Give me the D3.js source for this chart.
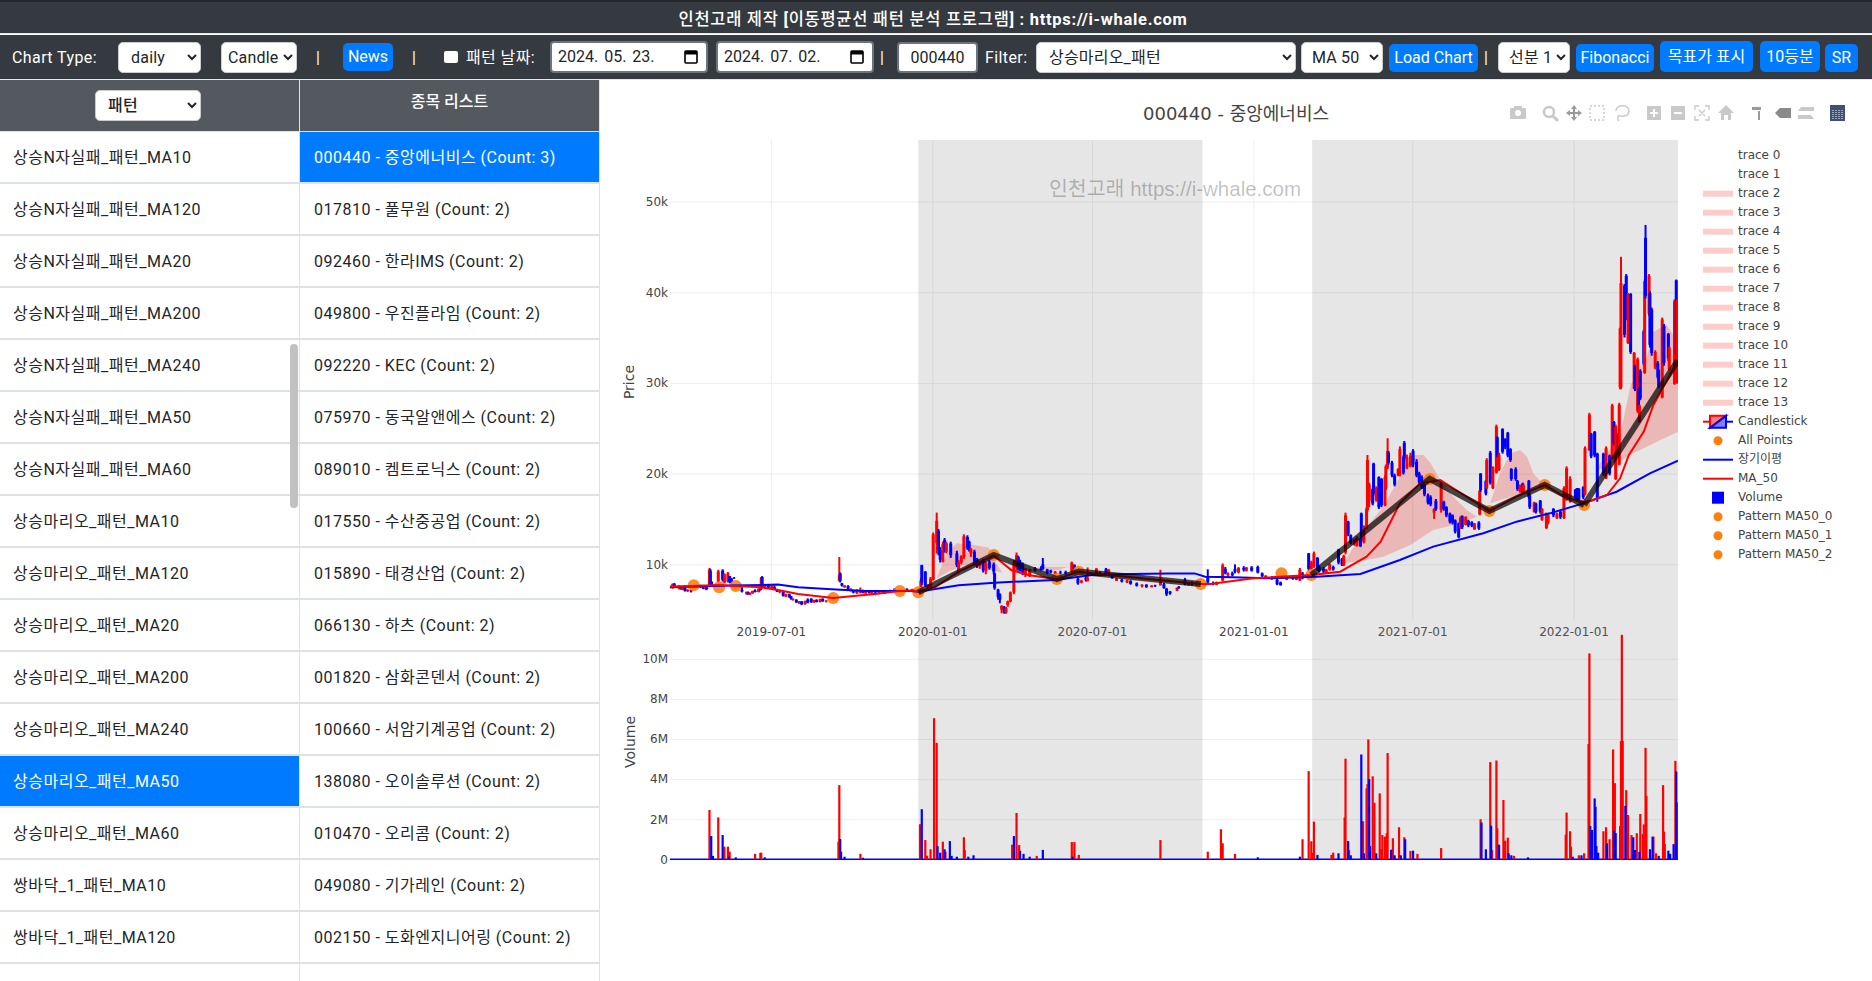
<!DOCTYPE html>
<html lang="ko">
<head>
<meta charset="utf-8">
<title>이동평균선 패턴 분석 프로그램</title>
<script src="https://cdn.jsdelivr.net/npm/d3@7"></script>
<style>
  html, body { margin: 0; padding: 0; width: 1872px; height: 981px; overflow: hidden; background: #fff; }
  body { position: relative; font-family: Roboto, "Noto Sans CJK KR", sans-serif; font-size: 16px; color: #212529; }
  #header { position: absolute; left: 0; top: 0; width: 1872px; height: 34px; background: #343a40; border-top: 2px solid #23272b; box-sizing: border-box; border-bottom: 1px solid #e8e8e8; color: #fff; text-align: center; line-height: 35px; font-size: 16.5px; letter-spacing: .7px; font-weight: 500; padding-right: 6px; }
  #header b { font-weight: 700; }
  #toolbar { position: absolute; left: 0; top: 35px; width: 1872px; height: 44px; background: #343a40; border-bottom: 1px solid #e8e8e8; box-sizing: content-box; }
  .ctl { position: absolute; box-sizing: border-box; }
  .label { color: #fff; white-space: nowrap; line-height: 30px; letter-spacing: .4px; }
  select.ctl { background: #fff; border: 1px solid #ccc; border-radius: 5px; font: inherit; color: #212529; padding: 0 0 0 4px; letter-spacing: .2px; }
  .btn { background: #007bff; color: #fff; border-radius: 5px; text-align: center; line-height: 27px; white-space: nowrap; }
  .datebox { background: #fff; border: 2px solid #6c757d; border-radius: 4px; color: #212529; line-height: 28px; padding-left: 6px; word-spacing: 2px; white-space: nowrap; }
  .datebox svg { position: absolute; right: 7px; top: 6px; }
  #patterns, #stocks { position: absolute; top: 80px; overflow: hidden; }
  #patterns { left: 0; width: 299px; }
  #stocks { left: 299px; width: 300px; border-right: 1px solid #dee2e6; }
  .col_head { height: 51px; background: #54595f; border-bottom: 1px solid #dee2e6; color: #fff; text-align: center; line-height: 43px; font-weight: 500; }
  #stocks .col_head { border-left: 1px solid #dee2e6; }
  .row { height: 50px; line-height: 52px; border-bottom: 2px solid #dee2e6; white-space: nowrap; letter-spacing: .5px; }
  #patterns .row { padding-left: 13px; }
  #stocks .row { padding-left: 14px; border-left: 1px solid #dee2e6; }
  .row.active { background: #007bff; color: #fff; }
  #scroll_thumb { position: absolute; left: 290px; top: 344px; width: 8px; height: 164px; background: #c1c1c1; border-radius: 4px; }
  #chart { position: absolute; left: 0; top: 0; pointer-events: none; }
  #chart text { font-family: "DejaVu Sans", "Noto Sans CJK KR", sans-serif; fill: #444; }
  .axis path.domain { display: none; }
  .axis line { stroke: #eee; }
</style>
</head>
<body>
<div id="header">인천고래 제작 <b>[</b>이동평균선 패턴 분석 프로그램<b>] : https://i-whale.com</b></div>
<div id="toolbar"></div>
<div id="patterns"></div>
<div id="stocks"></div>
<div id="scroll_thumb"></div>
<svg id="chart" width="1872" height="981"></svg>
<script>
// side lists
const pattern_names = ["상승N자실패_패턴_MA10", "상승N자실패_패턴_MA120", "상승N자실패_패턴_MA20", "상승N자실패_패턴_MA200",
  "상승N자실패_패턴_MA240", "상승N자실패_패턴_MA50", "상승N자실패_패턴_MA60", "상승마리오_패턴_MA10", "상승마리오_패턴_MA120",
  "상승마리오_패턴_MA20", "상승마리오_패턴_MA200", "상승마리오_패턴_MA240", "상승마리오_패턴_MA50", "상승마리오_패턴_MA60",
  "쌍바닥_1_패턴_MA10", "쌍바닥_1_패턴_MA120", ""];
const stock_names = ["000440 - 중앙에너비스 (Count: 3)", "017810 - 풀무원 (Count: 2)", "092460 - 한라IMS (Count: 2)",
  "049800 - 우진플라임 (Count: 2)", "092220 - KEC (Count: 2)", "075970 - 동국알앤에스 (Count: 2)", "089010 - 켐트로닉스 (Count: 2)",
  "017550 - 수산중공업 (Count: 2)", "015890 - 태경산업 (Count: 2)", "066130 - 하츠 (Count: 2)", "001820 - 삼화콘덴서 (Count: 2)",
  "100660 - 서암기계공업 (Count: 2)", "138080 - 오이솔루션 (Count: 2)", "010470 - 오리콤 (Count: 2)", "049080 - 기가레인 (Count: 2)",
  "002150 - 도화엔지니어링 (Count: 2)", ""];

// chart axes
const date_ticks = ["2019-07-01", "2020-01-01", "2020-07-01", "2021-01-01", "2021-07-01", "2022-01-01"];
const price_ticks = [10000, 20000, 30000, 40000, 50000];
const volume_ticks = [0, 2, 4, 6, 8, 10];
const legend_labels = ["trace 0", "trace 1", "trace 2", "trace 3", "trace 4", "trace 5", "trace 6", "trace 7", "trace 8", "trace 9",
  "trace 10", "trace 11", "trace 12", "trace 13", "Candlestick", "All Points", "장기이평", "MA_50", "Volume",
  "Pattern MA50_0", "Pattern MA50_1", "Pattern MA50_2"];

// date, open, high, low, close
const candles_2019 = [
  ["2019-03-11",7400,7900,7300,7800],["2019-03-13",7800,7950,7400,7500],["2019-03-18",7400,7700,7250,7550],["2019-03-20",7500,7600,7200,7300],
  ["2019-03-22",7200,7500,7150,7400],["2019-03-25",7400,7700,7000,7100],["2019-03-28",7050,7250,6950,7200],["2019-04-01",7150,7250,6900,7000],
  ["2019-04-12",7650,7750,7400,7500],["2019-04-15",7450,7600,7250,7300],["2019-04-18",7250,7500,7150,7400],["2019-04-19",7400,7550,7200,7300],
  ["2019-04-22",7600,9600,7500,9400],["2019-04-23",9300,9500,7600,7800],["2019-04-25",7800,8100,7500,7600],["2019-05-02",8100,9400,8000,9200],
  ["2019-05-07",9300,9450,8100,8300],["2019-05-09",8000,9000,7900,8900],["2019-05-13",8100,9150,8000,9000],["2019-05-15",8700,8700,7900,8100],
  ["2019-05-17",8400,8500,7900,8000],["2019-05-20",8500,8600,8400,8450],["2019-05-29",7200,7500,6900,7000],["2019-06-03",6800,7000,6650,6900],
  ["2019-06-05",6950,7000,6650,6700],["2019-06-07",6650,6900,6600,6850],["2019-06-10",6800,7100,6750,7050],["2019-06-13",7100,7250,6900,6950],
  ["2019-06-17",6950,7350,6900,7300],["2019-06-19",7300,7500,7100,7150],["2019-06-20",7300,8600,7250,8500],["2019-06-21",8600,8700,7400,7500],
  ["2019-06-24",7400,7700,7300,7650],["2019-06-28",7650,7750,7300,7400],["2019-07-02",7300,7650,7250,7600],["2019-07-05",7500,7650,7150,7250],
  ["2019-07-08",7200,7300,6950,7000],["2019-07-11",6950,7150,6800,7100],["2019-07-15",6950,7000,6450,6550],["2019-07-18",6450,6750,6400,6700],
  ["2019-07-22",6700,6750,6300,6400],["2019-07-24",6450,6500,6100,6200],["2019-07-26",6050,6250,6000,6200],["2019-07-30",6100,6150,5750,5800],
  ["2019-08-02",5700,5950,5650,5900],["2019-08-05",5900,5950,5500,5600],["2019-08-09",5600,6000,5550,5950],["2019-08-12",6100,6250,5700,5800],
  ["2019-08-16",6200,6250,5750,5850],["2019-08-19",5800,6100,5750,6050],["2019-08-22",6050,6150,5800,5850],["2019-08-26",5850,6200,5800,6150],
  ["2019-08-29",6200,6250,5850,5950],["2019-09-02",5900,6050,5800,6000],["2019-09-17",8200,10800,8100,8800],["2019-09-18",9000,9100,8000,8200],
  ["2019-09-20",7900,7950,7550,7650],["2019-09-23",7500,7700,7400,7650],["2019-09-27",7600,7700,7200,7300],["2019-09-30",7150,7350,7000,7300],
  ["2019-10-03",7150,7200,6800,6900],["2019-10-07",6800,7250,6750,7200],["2019-10-11",6850,7450,6800,7100],["2019-10-14",7050,7200,6800,6900],
  ["2019-10-17",6800,7050,6750,7000],["2019-10-21",7000,7050,6800,6850],["2019-10-24",6800,7000,6700,6950],["2019-10-28",6900,6950,6600,6750],
  ["2019-11-01",6750,6950,6700,6900],["2019-11-08",7000,7050,6750,6850],["2019-11-14",7000,7200,6950,7150],["2019-11-19",7300,7350,7100,7200],
  ["2019-12-03",7300,7350,7150,7200],["2019-12-09",7150,7300,7000,7250],["2019-12-19",7300,8500,7100,8200],["2019-12-20",9900,9950,7700,8000],
  ["2019-12-24",9200,9250,7500,7700],["2019-12-27",7300,7800,7100,7700],["2019-12-30",7700,8600,7500,8400]
];
const candles_2020 = [
  ["2020-01-02",8300,13500,8200,13300],["2020-01-06",12300,15700,11200,14800],["2020-01-08",13700,13900,11000,11600],["2020-01-10",11600,11900,10200,10500],
  ["2020-01-13",10300,12500,10200,12200],["2020-01-15",12700,12900,11300,11500],["2020-01-17",11400,12500,11200,12300],["2020-01-22",12300,12500,10700,11000],
  ["2020-01-29",11200,11500,9700,9900],["2020-01-31",9300,10500,9000,10200],["2020-02-03",10200,11000,10000,10900],["2020-02-06",10800,13300,10600,13100],
  ["2020-02-10",13000,13200,11600,11800],["2020-02-12",12500,12600,11400,11600],["2020-02-14",11200,11800,10800,11700],["2020-02-18",11400,11600,10000,10300],
  ["2020-02-21",10600,10700,9600,9800],["2020-02-24",9800,10300,9500,10200],["2020-02-28",10400,10600,9100,9300],["2020-03-02",9300,10300,8900,10100],
  ["2020-03-06",10300,10500,9400,9600],["2020-03-11",10000,10200,8900,9200],["2020-03-12",9000,9100,7200,7400],["2020-03-16",7200,7300,6100,6400],
  ["2020-03-18",6700,6800,5700,6100],["2020-03-20",5000,5500,4600,5400],["2020-03-23",5300,5400,4550,4700],["2020-03-25",4700,5300,4550,5200],
  ["2020-03-27",5500,6000,5300,5900],["2020-03-30",5900,7000,5800,6900],["2020-04-03",6900,10500,6700,10100],["2020-04-06",9600,11300,9300,11000],
  ["2020-04-08",10800,10950,9300,9500],["2020-04-10",10300,10500,9200,9400],["2020-04-13",10000,10200,8800,9000],["2020-04-16",8900,9600,8600,9500],
  ["2020-04-21",8700,9500,8600,9400],["2020-04-27",9500,9700,9200,9300],["2020-05-04",9600,9800,9300,9400],["2020-05-06",10000,10700,9400,9500],
  ["2020-05-11",9400,9500,8900,9050],["2020-05-15",9300,9400,9000,9100],["2020-05-20",8900,9250,8800,9200],["2020-05-26",9100,9300,8900,9000],
  ["2020-06-01",9150,9300,8850,9000],["2020-06-08",9200,10300,9100,10200],["2020-06-11",9900,10000,9200,9300],["2020-06-15",8400,8500,7750,7900],
  ["2020-06-19",8000,8300,7900,8200],["2020-06-24",8500,8700,8100,8300],["2020-06-26",8200,9650,8100,8500],["2020-07-06",8800,9600,8750,9500],
  ["2020-07-10",9000,9200,8700,8900],["2020-07-17",9500,9600,8800,8900],["2020-07-20",8800,9500,8700,9400],["2020-07-24",8800,8900,8400,8500],
  ["2020-07-29",8200,8500,8150,8400],["2020-08-04",8300,8400,8000,8100],["2020-08-10",8000,8300,7950,8250],["2020-08-14",8150,8250,7750,7850],
  ["2020-08-21",7900,8000,7550,7650],["2020-08-27",7600,7800,7450,7750],["2020-09-01",7750,7800,7400,7500],["2020-09-07",7500,7700,7450,7650],
  ["2020-09-11",7650,7750,7500,7600],["2020-09-17",7700,9400,7650,8000],["2020-09-21",7800,7950,7300,7400],["2020-09-24",7300,7400,6500,6700],
  ["2020-09-28",7000,7050,6650,6800],["2020-10-06",7100,7450,7050,7400],["2020-10-08",7500,7600,7300,7400],["2020-10-15",8300,8500,7700,7800],
  ["2020-10-19",7700,8000,7650,7950],["2020-10-23",8000,8100,7650,7700],["2020-10-28",7650,7950,7600,7900],["2020-11-10",8700,9450,7900,8000],
  ["2020-11-16",7900,8100,7700,7800],["2020-11-20",7750,8100,7700,8050],["2020-11-27",8200,10100,8100,9900],["2020-11-30",9500,9700,8900,9000],
  ["2020-12-03",8800,9100,8600,9000],["2020-12-08",9000,9200,8700,8800],["2020-12-11",9500,10000,9000,9200],["2020-12-15",9100,9700,9000,9600],
  ["2020-12-21",9600,9800,9200,9400],["2020-12-24",9300,9700,9200,9650],["2020-12-30",9650,9800,9200,9300]
];
const candles_2021 = [
  ["2021-01-06",9700,9850,9000,9100],["2021-01-11",9000,9100,8600,8700],["2021-01-15",8500,8800,8400,8750],["2021-01-22",8600,8700,8300,8400],
  ["2021-01-28",8300,8400,7700,7800],["2021-02-01",8000,8100,7650,7700],["2021-02-08",8300,8650,8250,8600],["2021-02-15",8600,8700,8300,8400],
  ["2021-02-19",8300,8800,8250,8750],["2021-02-23",8200,9600,8150,9400],["2021-02-26",9000,9150,8350,8500],["2021-03-05",11200,11250,9300,9500],
  ["2021-03-08",9500,10400,9300,10200],["2021-03-11",9800,11400,9600,11200],["2021-03-15",10700,10800,9300,9450],["2021-03-17",9700,9900,9100,9300],
  ["2021-03-22",9500,9700,9000,9200],["2021-03-25",9100,9500,9000,9400],["2021-03-29",9400,10100,9300,10000],["2021-04-02",9700,9850,9300,9450],
  ["2021-04-08",11600,11700,10000,10200],["2021-04-12",10600,10700,9800,9950],["2021-04-14",9900,11050,9800,10900],["2021-04-16",11300,15700,11100,15400],
  ["2021-04-19",14700,14800,13100,13300],["2021-04-22",13200,13300,12200,12400],["2021-04-26",12150,12800,12050,12700],["2021-04-29",12050,13100,11950,12950],
  ["2021-05-03",12800,12900,11900,12000],["2021-05-04",15600,15700,12400,12600],["2021-05-07",12500,14300,12300,14100],["2021-05-10",14000,16300,13900,16100],
  ["2021-05-11",16000,22050,15800,21500],["2021-05-13",17000,19000,16300,18800],["2021-05-17",18300,18400,16500,16700],["2021-05-18",21100,21200,17600,17800],
  ["2021-05-21",17100,18600,16900,18400],["2021-05-24",19600,19700,16100,16300],["2021-05-27",19400,19500,16300,16500],["2021-05-31",16500,19800,16400,19600],
  ["2021-06-01",18400,21000,18200,20800],["2021-06-03",20700,23900,20500,22500],["2021-06-04",22300,22500,21000,21200],["2021-06-08",21200,21400,19600,19800],
  ["2021-06-11",19800,20000,18600,18800],["2021-06-15",19850,20600,19700,20500],["2021-06-17",19900,23000,19700,22700],["2021-06-21",21800,22000,19900,20100],
  ["2021-06-22",23400,23600,21400,21600],["2021-06-25",20600,22100,20500,21800],["2021-06-29",20800,22300,20700,22000],["2021-07-02",22500,22700,20700,21000],
  ["2021-07-06",21300,21600,19600,19800],["2021-07-09",20000,20200,18800,19000],["2021-07-12",19600,19800,18300,18500],["2021-07-15",18700,18900,17500,17700],
  ["2021-07-19",17600,17800,16600,16800],["2021-07-22",17400,17600,16400,16600],["2021-07-26",15700,16200,15000,16100],["2021-07-28",17000,17200,15900,16100],
  ["2021-08-03",16000,19300,15700,18900],["2021-08-06",16900,17000,15900,16100],["2021-08-09",16300,16400,15200,15400],["2021-08-13",15600,15700,14500,14700],
  ["2021-08-16",15400,15500,14400,14600],["2021-08-19",14850,14950,13400,13600],["2021-08-23",14500,14600,12860,13000],["2021-08-25",14000,15300,13900,15100],
  ["2021-08-27",15300,15400,13900,14100],["2021-08-31",14350,15300,14300,15200],["2021-09-03",14800,14900,14100,14300],["2021-09-07",14650,14750,14100,14250],
  ["2021-09-10",13850,14550,13800,14500],["2021-09-15",14600,14750,13800,13950],["2021-09-16",15500,18200,15400,18100],["2021-09-17",20000,20050,18000,18200],
  ["2021-09-23",19200,19300,17600,17800],["2021-09-24",18400,21700,18300,21500],["2021-09-28",22300,22500,18800,19000],["2021-10-01",18400,20800,18300,20700],
  ["2021-10-05",20100,25400,20000,25200],["2021-10-06",24000,24100,21800,22000],["2021-10-08",20400,22300,20300,22100],["2021-10-12",24900,25000,22200,22400],
  ["2021-10-15",23800,23900,22700,22900],["2021-10-18",24500,24600,21800,22000],["2021-10-21",22700,22800,21300,21500],["2021-10-22",20500,20600,19200,19400],
  ["2021-10-27",20500,20700,19200,19400],["2021-10-29",19200,19300,18100,18300],["2021-11-01",18000,18800,17900,18700],["2021-11-04",18900,19000,17700,17900],
  ["2021-11-05",18000,18800,17900,18700],["2021-11-11",19200,19300,17200,17400],["2021-11-12",17600,17700,16100,16300],["2021-11-17",15800,16900,15700,16800],
  ["2021-11-19",16700,16800,15600,15800],["2021-11-24",17000,17100,15600,15800],["2021-11-26",14900,16200,14800,16100],["2021-12-01",14000,15700,13900,15600],
  ["2021-12-03",14600,15500,14400,15400],["2021-12-09",16100,16200,15200,15400],["2021-12-13",15100,15700,15000,15600],["2021-12-17",15800,15900,15000,15200],
  ["2021-12-21",15100,18600,15000,18400],["2021-12-24",17100,20800,17000,20600],["2021-12-28",16900,19700,16800,19400]
];
const candles_2022 = [
  ["2022-01-03",18200,18300,17200,17400],["2022-01-05",18400,18400,16900,17100],["2022-01-07",18300,18400,17000,17200],["2022-01-12",18500,18600,17200,17400],
  ["2022-01-14",17700,23000,17600,22800],["2022-01-19",22600,26700,22500,26500],["2022-01-21",24400,24500,21700,21900],["2022-01-25",24600,24700,21800,22000],
  ["2022-01-28",22200,22300,16900,17200],["2022-02-04",22200,22300,19800,20000],["2022-02-07",19500,23000,19400,22800],["2022-02-11",22000,22100,19800,20000],
  ["2022-02-14",21700,27700,21600,27500],["2022-02-16",25700,25800,23100,23300],["2022-02-18",19400,25400,19300,25200],["2022-02-21",24400,24500,22000,22200],
  ["2022-02-22",21000,27800,20900,27600],["2022-02-23",29500,36100,29300,36000],["2022-02-24",29500,43900,29300,41000],["2022-02-28",40700,40900,35000,35300],
  ["2022-03-02",41800,42000,36900,37100],["2022-03-04",34400,39900,34300,39700],["2022-03-07",39800,39900,33200,33400],["2022-03-11",29400,33400,29300,33300],
  ["2022-03-12",31900,32000,29100,29300],["2022-03-15",26900,32800,26700,32600],["2022-03-16",29300,29400,26900,27100],["2022-03-17",25700,27600,25600,27500],
  ["2022-03-18",31300,31500,28100,28300],["2022-03-22",35700,35900,31900,32100],["2022-03-23",31100,41400,31000,41200],["2022-03-24",46000,47400,39300,39600],
  ["2022-03-28",37600,42000,37400,41800],["2022-03-29",39900,40100,33900,34200],["2022-03-31",38100,38300,33000,33300],["2022-04-04",31700,33600,31500,33400],
  ["2022-04-07",32200,32400,30400,30600],["2022-04-08",31400,31500,29400,29600],["2022-04-12",28400,37200,28300,37000],["2022-04-14",36300,36500,31900,32200],
  ["2022-04-19",35400,35500,32400,32700],["2022-04-20",31500,34000,31400,33900],["2022-04-26",29900,39200,29800,39000],["2022-04-28",41300,41400,33000,33200],
  ["2022-04-29",30000,39200,29900,39000]
];

// moving averages, date and price
const long_ma = [["2019-03-08",7465],["2019-04-09",7540],["2019-05-17",7650],["2019-07-09",7760],["2019-08-01",7465],["2019-09-08",7245],["2019-10-16",7060],
  ["2019-12-08",7060],["2019-12-16",6985],["2020-01-31",7685],["2020-03-12",7980],["2020-05-20",8270],["2020-07-01",8825],["2020-08-15",8930],["2020-09-26",9000],
  ["2020-10-26",9000],["2020-11-07",8640],["2020-12-09",8570],["2021-01-16",8455],["2021-03-14",8640],["2021-05-03",8935],["2021-06-17",10480],["2021-07-25",11950],
  ["2021-09-20",13420],["2021-10-28",14700],["2021-12-05",15620],["2022-01-12",16720],["2022-02-19",18000],["2022-03-29",20030],["2022-04-30",21430]];
const ma_50 = [["2019-03-08",7540],["2019-04-02",7610],["2019-05-02",7720],["2019-05-23",7610],["2019-06-20",7465],["2019-07-09",7170],["2019-08-01",6730],
  ["2019-09-10",6290],["2019-10-27",6730],["2019-11-25",7060],["2019-12-10",7100],["2019-12-16",6985],["2020-01-04",7465],["2020-01-31",9190],["2020-03-11",10955],
  ["2020-03-31",9375],["2020-04-19",8825],["2020-05-22",8345],["2020-06-15",9190],["2020-07-20",8825],["2020-09-15",8270],["2020-11-03",7830],["2020-11-13",7830],
  ["2021-01-01",8455],["2021-03-08",8825],["2021-04-10",9190],["2021-05-10",10845],["2021-05-26",12500],["2021-06-17",16725],["2021-07-10",18930],["2021-08-02",19300],
  ["2021-08-29",17640],["2021-09-27",15880],["2021-10-28",17460],["2021-11-29",18750],["2021-12-21",17460],["2022-01-13",16725],["2022-02-08",17640],["2022-02-23",19480],
  ["2022-03-05",22050],["2022-03-22",24630],["2022-04-02",27570],["2022-04-29",32340]];

// all detected turning points
const all_points = [["2019-04-04",7685],["2019-05-03",7465],["2019-05-22",7610],["2019-09-10",6290],["2019-11-25",7060],["2019-12-16",6910],["2020-03-11",11030],
  ["2020-05-22",8380],["2020-06-16",9190],["2020-11-02",7830],["2021-02-02",9010],["2021-03-08",8825],["2021-07-21",19410],["2021-09-27",15880],["2021-11-29",18750],["2022-01-13",16540]];

// mario pattern legs
const pattern_0 = [["2019-12-16",6910],["2020-03-11",11030],["2020-05-22",8380],["2020-06-16",9190],["2020-11-02",7830]];
const pattern_1 = [["2021-03-08",8825],["2021-07-21",19410],["2021-09-27",15880],["2021-11-29",18750],["2022-01-13",16540]];
const pattern_2 = [["2022-01-13",16540],["2022-04-30",32500]];

// shaded pattern periods
const pattern_spans = [["2019-12-16", "2020-11-04"], ["2021-03-09", "2022-04-30"]];

// pink bands around the legs
const band_a = [["2020-01-06",8455],["2020-01-12",9925],["2020-01-19",11400],["2020-01-29",12315],["2020-02-17",12130],["2020-03-05",11840],["2020-03-11",11030],
  ["2020-03-14",10110],["2020-03-21",9080],["2020-03-01",9560],["2020-02-07",9925],["2020-01-19",9190]];
const band_b = [["2020-04-19",9375],["2020-05-05",9740],["2020-06-04",9740],["2020-05-24",9375],["2020-05-05",9190]];
const band_c = [["2021-04-14",10105],["2021-05-07",13780],["2021-05-29",16350],["2021-06-17",19660],["2021-07-03",22050],["2021-07-14",22050],["2021-07-22",21130],
  ["2021-08-02",19290],["2021-08-17",17455],["2021-09-01",15990],["2021-09-13",15250],["2021-08-25",14520],["2021-07-25",13780],["2021-06-29",12130],["2021-05-29",10840],["2021-05-10",10475]];
const band_d = [["2021-09-28",16720],["2021-10-09",20030],["2021-10-21",22235],["2021-11-01",22600],["2021-11-09",21865],["2021-11-16",20030],["2021-11-28",18740],["2021-10-28",17640]];
const band_e = [["2022-01-26",20400],["2022-02-23",24255],["2022-03-07",29770],["2022-03-26",33075],["2022-04-02",35650],["2022-04-17",36380],["2022-04-30",34545],
  ["2022-04-30",24620],["2022-04-06",23520],["2022-03-10",22235],["2022-02-14",20765]];

// volume in millions, date and value
const volume_up = [["2019-04-22",2.46],["2019-05-02",2.09],["2019-05-09",.63],["2019-05-13",.63],["2019-05-15",.38],["2019-06-13",.27],["2019-06-19",.32],["2019-06-20",.33],
  ["2019-09-16",.88],["2019-09-17",3.7],["2019-10-11",.27],["2019-12-18",1.75],["2019-12-24",.96],["2019-12-26",.18],["2019-12-30",.5],["2020-01-03",7.04],["2020-01-06",5.81],
  ["2020-01-13",.88],["2020-01-16",.38],["2020-02-06",1.1],["2020-02-07",.46],["2020-04-01",.73],["2020-04-06",2.31],["2020-04-09",.71],["2020-04-29",.17],["2020-06-08",.86],
  ["2020-06-11",.86],["2020-06-16",.22],["2020-09-17",.96],["2020-11-10",.38],["2020-11-25",1.5],["2020-11-27",.8],["2020-12-11",.27],["2021-02-26",1.0],["2021-03-05",4.4],
  ["2021-03-08",.9],["2021-03-09",.33],["2021-03-11",1.88],["2021-03-31",.22],["2021-04-02",.33],["2021-04-15",2.09],["2021-04-16",5.02],["2021-04-20",.46],["2021-05-06",1.9],
  ["2021-05-10",3.54],["2021-05-11",3.75],["2021-05-12",5.98],["2021-05-17",4.14],["2021-05-19",2.82],["2021-05-25",3.29],["2021-05-27",.51],["2021-05-28",1.21],["2021-05-31",1.13],
  ["2021-06-02",1.3],["2021-06-03",5.3],["2021-06-09",1.05],["2021-06-16",1.6],["2021-06-22",1.1],["2021-06-29",.42],["2021-07-07",.27],["2021-08-03",.56],["2021-09-17",2.0],
  ["2021-09-28",4.85],["2021-09-30",.46],["2021-10-05",4.93],["2021-10-06",1.55],["2021-10-13",2.96],["2021-10-15",.93],["2021-10-18",1.08],["2021-10-25",.17],["2021-12-23",1.23],
  ["2021-12-24",2.33],["2021-12-28",1.4],["2021-12-29",.63],["2022-01-07",.2],["2022-01-13",.3],["2022-01-18",5.75],["2022-01-19",10.27],["2022-02-04",1.4],["2022-02-07",1.6],
  ["2022-02-11",1.0],["2022-02-15",5.48],["2022-02-17",3.8],["2022-02-23",1.66],["2022-02-24",5.9],["2022-02-25",11.2],["2022-02-26",5.9],["2022-03-02",3.45],["2022-03-04",2.21],
  ["2022-03-08",1.21],["2022-03-14",1.3],["2022-03-18",2.26],["2022-03-21",1.26],["2022-03-22",1.74],["2022-03-24",5.56],["2022-03-25",3.16],["2022-04-02",1.13],["2022-04-05",.3],
  ["2022-04-13",3.7],["2022-04-14",1.38],["2022-04-15",.76],["2022-04-27",4.91],["2022-04-29",2.84]];
const volume_down = [["2019-04-24",1.16],["2019-04-26",.17],["2019-05-07",1.21],["2019-05-14",.13],["2019-05-22",.1],["2019-06-24",.1],["2019-09-18",1.01],["2019-09-19",.38],
  ["2019-09-23",.13],["2019-10-14",.08],["2019-12-20",2.5],["2020-01-07",.66],["2020-01-10",.33],["2020-01-15",.5],["2020-01-21",.91],["2020-01-23",.17],["2020-01-29",.13],
  ["2020-02-11",.13],["2020-02-17",.2],["2020-04-03",1.16],["2020-04-10",.42],["2020-04-14",.27],["2020-04-21",.13],["2020-05-06",.47],["2020-06-09",.13],["2021-01-06",.1],
  ["2021-02-23",.13],["2021-03-15",.22],["2021-04-08",.3],["2021-04-19",.91],["2021-04-22",.2],["2021-05-04",5.23],["2021-05-07",.3],["2021-05-13",4.0],["2021-05-14",.66],
  ["2021-05-21",.3],["2021-06-07",.48],["2021-06-11",.2],["2021-06-18",.2],["2021-06-23",1.0],["2021-07-02",.43],["2021-09-18",1.83],["2021-09-23",.5],["2021-09-29",1.68],
  ["2021-10-08",.73],["2021-10-19",.3],["2021-10-22",.2],["2021-11-10",.1],["2021-12-31",.13],["2022-01-10",.2],["2022-01-20",1.66],["2022-01-22",1.46],["2022-01-25",3.04],
  ["2022-01-26",2.62],["2022-01-27",.66],["2022-01-29",.33],["2022-02-08",.8],["2022-02-16",1.43],["2022-02-18",1.31],["2022-03-01",2.67],["2022-03-10",1.1],["2022-03-12",.46],
  ["2022-03-17",.37],["2022-03-29",.5],["2022-04-01",1.13],["2022-04-08",.17],["2022-04-19",.43],["2022-04-21",.27],["2022-04-25",.76],["2022-04-28",4.38]];

let parse_date = d3.timeParse("%Y-%m-%d"),
  plot = {left: 670, right: 1678},
  price_panel = {top: 140, bottom: 620},
  volume_panel = {top: 634, bottom: 859.3},
  colors = {up: "#ff0000", down: "#0000ff", point: "#ff7f0e", band: "rgba(255,0,0,0.2)", span: "rgba(128,128,128,0.2)"};

function make_scales() {
  return {
    x: d3.scaleTime()
      .domain([parse_date("2019-03-08"), parse_date("2022-04-30")])
      .range([plot.left, plot.right]),
    price: d3.scaleLinear()
      .domain([3860, 56780])
      .range([price_panel.bottom, price_panel.top]),
    volume: d3.scaleLinear()
      .domain([0, 11.24])
      .range([volume_panel.bottom, volume_panel.top])
  }
}

function side_lists() {
  d3.select("#patterns").append("div").attr("class", "col_head").style("position", "relative")
    .append("select").attr("class", "ctl")
    .style("left", "95px").style("top", "10px").style("width", "106px").style("height", "31px").style("padding-left", "8px")
    .append("option").text("패턴");
  d3.select("#stocks").append("div").attr("class", "col_head").text("종목 리스트");

  d3.select("#patterns").selectAll(".row")
    .data(pattern_names).enter().append("div")
    .attr("class", d => d == "상승마리오_패턴_MA50" ? "row active" : "row")
    .text(d => d);
  d3.select("#stocks").selectAll(".row")
    .data(stock_names).enter().append("div")
    .attr("class", (d, i) => i == 0 ? "row active" : "row")
    .text(d => d);
}

function toolbar() {
  let bar = d3.select("#toolbar");
  // top is given against the page, the bar itself starts at 35
  let place = (sel, l, t, w, h) => sel.style("left", l + "px").style("top", (t - 35) + "px")
    .style("width", w ? w + "px" : null).style("height", h ? h + "px" : null);

  let labels = [["Chart Type:", 12], ["|", 316], ["|", 412], ["패턴 날짜:", 466], ["|", 880], ["Filter:", 985], ["|", 1484]];
  labels.forEach(d => place(bar.append("div").attr("class", "ctl label").text(d[0]), d[1], 43));

  let selects = [["daily", 118, 83, 8], ["Candle", 221, 76, 2], ["상승마리오_패턴", 1036, 260, 8], ["MA 50", 1301, 82, 6], ["선분 1", 1498, 72, 6]];
  selects.forEach(d => {
    let s = bar.append("select").attr("class", "ctl").style("padding-left", d[3] + "px");
    s.append("option").text(d[0]);
    place(s, d[1], 42, d[2], 31);
  });

  let buttons = [["News", 343, 43, 50, 28], ["Load Chart", 1389, 44, 89, 28], ["Fibonacci", 1576, 44, 78, 28],
    ["목표가 표시", 1660, 41, 93, 31], ["10등분", 1760, 41, 60, 31], ["SR", 1825, 44, 33, 28]];
  buttons.forEach(d => {
    let b = place(bar.append("div").attr("class", "ctl btn").text(d[0]), d[1], d[2], d[3], d[4]);
    b.style("line-height", d[4] + "px");
  });

  place(bar.append("div").attr("class", "ctl").style("background", "#fff").style("border-radius", "2px"), 444, 51, 14, 12);

  [["2024. 05. 23.", 550], ["2024. 07. 02.", 716]].forEach(d => {
    let box = place(bar.append("div").attr("class", "ctl datebox").text(d[0]), d[1], 41, 158, 32);
    let cal = box.append("svg").attr("width", 16).attr("height", 16);
    cal.append("rect").attr("x", 2).attr("y", 2).attr("width", 12).attr("height", 12).attr("rx", 1).attr("fill", "none").attr("stroke", "#000").attr("stroke-width", 1.6);
    cal.append("rect").attr("x", 2).attr("y", 2).attr("width", 12).attr("height", 3.5).attr("fill", "#000");
  });

  place(bar.append("div").attr("class", "ctl datebox").style("text-align", "center").style("padding-left", "0").text("000440"), 897, 42, 81, 31);
}

function to_points(rows) {
  return rows.map(d => [parse_date(d[0]), d[1]]);
}

function price_path(scales) {
  return d3.line().x(d => scales.x(d[0])).y(d => scales.price(d[1]));
}

function axes(svg, scales) {
  let ticks_x = date_ticks.map(parse_date);

  let x_axis = svg.append("g").attr("class", "axis")
    .attr("transform", `translate(0, ${price_panel.bottom})`)
    .call(d3.axisBottom(scales.x).tickValues(ticks_x).tickFormat(d3.timeFormat("%Y-%m-%d"))
      .tickSize(price_panel.top - price_panel.bottom));
  x_axis.selectAll("text")
    .attr("y", 12).attr("dy", 0)
    .attr("dominant-baseline", "middle")
    .style("font-size", "12px");

  let y_axis = svg.append("g").attr("class", "axis")
    .attr("transform", `translate(${plot.left}, 0)`)
    .call(d3.axisLeft(scales.price).tickValues(price_ticks).tickFormat(d => (d / 1000) + "k")
      .tickSize(plot.left - plot.right).tickPadding(2));
  y_axis.selectAll("text").style("font-size", "12px").attr("x", -2);

  let v_axis = svg.append("g").attr("class", "axis")
    .attr("transform", `translate(${plot.left}, 0)`)
    .call(d3.axisLeft(scales.volume).tickValues(volume_ticks).tickFormat(d => d == 0 ? "0" : d + "M")
      .tickSize(plot.left - plot.right).tickPadding(2));
  v_axis.selectAll("text").style("font-size", "12px").attr("x", -2);

  svg.append("text").text("Price").attr("text-anchor", "middle")
    .attr("transform", "translate(634, 382) rotate(-90)").style("font-size", "14px");
  svg.append("text").text("Volume").attr("text-anchor", "middle")
    .attr("transform", "translate(635, 742) rotate(-90)").style("font-size", "14px");
}

function spans(svg, scales) {
  svg.append("g").selectAll("rect")
    .data(pattern_spans).enter().append("rect")
    .attr("x", d => scales.x(parse_date(d[0])))
    .attr("width", d => scales.x(parse_date(d[1])) - scales.x(parse_date(d[0])))
    .attr("y", price_panel.top)
    .attr("height", volume_panel.bottom - price_panel.top)
    .attr("fill", colors.span);
}

function price_marks(svg, scales) {
  let line = price_path(scales);

  // pink bands first, they sit under the candles
  svg.append("g").selectAll("path")
    .data([band_a, band_b, band_c, band_d, band_e]).enter().append("path")
    .attr("d", d => line(to_points(d)) + "Z")
    .attr("fill", colors.band);

  let candle_rows = [].concat(candles_2019, candles_2020, candles_2021, candles_2022);
  let candles = svg.append("g").selectAll("g")
    .data(candle_rows).enter().append("g")
    .attr("stroke", d => d[4] >= d[1] ? colors.up : colors.down)
    .attr("fill", d => d[4] >= d[1] ? colors.up : colors.down);
  candles.append("line")
    .attr("x1", d => scales.x(parse_date(d[0])))
    .attr("x2", d => scales.x(parse_date(d[0])))
    .attr("y1", d => scales.price(d[2]))
    .attr("y2", d => scales.price(d[3]))
    .attr("stroke-width", 2);
  candles.append("rect")
    .attr("x", d => scales.x(parse_date(d[0])) - 1.5)
    .attr("width", 3)
    .attr("y", d => scales.price(Math.max(d[1], d[4])))
    .attr("height", d => Math.abs(scales.price(d[1]) - scales.price(d[4])))
    .attr("stroke", "none");

  svg.append("g").selectAll("circle")
    .data(to_points(all_points)).enter().append("circle")
    .attr("cx", d => scales.x(d[0]))
    .attr("cy", d => scales.price(d[1]))
    .attr("r", 6)
    .attr("fill", colors.point)
    .attr("opacity", 0.9);

  svg.append("path").attr("d", line(to_points(long_ma)))
    .attr("fill", "none").attr("stroke", colors.down).attr("stroke-width", 2);
  svg.append("path").attr("d", line(to_points(ma_50)))
    .attr("fill", "none").attr("stroke", colors.up).attr("stroke-width", 2);

  svg.append("g").selectAll("path")
    .data([pattern_0, pattern_1, pattern_2]).enter().append("path")
    .attr("d", d => line(to_points(d)))
    .attr("fill", "none")
    .attr("stroke", "#000")
    .attr("stroke-opacity", 0.7)
    .attr("stroke-width", 6);
}

function volume_marks(svg, scales) {
  // low days sit on the zero line
  svg.append("line")
    .attr("x1", plot.left).attr("x2", plot.right)
    .attr("y1", scales.volume(0)).attr("y2", scales.volume(0))
    .attr("stroke", colors.down).attr("stroke-width", 1.5);

  [[volume_up, colors.up], [volume_down, colors.down]].forEach(group => {
    svg.append("g").selectAll("rect")
      .data(to_points(group[0])).enter().append("rect")
      .attr("x", d => scales.x(d[0]) - 1.1)
      .attr("width", 2.2)
      .attr("y", d => scales.volume(d[1]))
      .attr("height", d => scales.volume(0) - scales.volume(d[1]))
      .attr("fill", group[1]);
  });
}

function legend(svg) {
  let rows = svg.append("g").selectAll("g")
    .data(legend_labels).enter().append("g")
    .attr("transform", (d, i) => `translate(1703, ${155.7 + i * 19})`);

  rows.append("text").text(d => d)
    .attr("x", 35)
    .attr("dominant-baseline", "middle")
    .style("font-size", "12px");

  rows.filter(d => d.startsWith("trace") && !["trace 0", "trace 1"].includes(d))
    .append("rect").attr("y", -3).attr("width", 30).attr("height", 6).attr("fill", colors.band);

  rows.filter(d => ["All Points", "Pattern MA50_0", "Pattern MA50_1", "Pattern MA50_2"].includes(d))
    .append("circle").attr("cx", 15).attr("r", 4.5).attr("fill", colors.point);

  rows.filter(d => d == "장기이평")
    .append("line").attr("x2", 30).attr("stroke", colors.down).attr("stroke-width", 2);
  rows.filter(d => d == "MA_50")
    .append("line").attr("x2", 30).attr("stroke", colors.up).attr("stroke-width", 2);
  rows.filter(d => d == "Volume")
    .append("rect").attr("x", 9).attr("y", -6).attr("width", 12).attr("height", 12).attr("fill", colors.down);

  let candle = rows.filter(d => d == "Candlestick");
  candle.append("line").attr("x2", 7).attr("stroke", colors.up).attr("stroke-width", 2);
  candle.append("line").attr("x1", 23).attr("x2", 30).attr("stroke", colors.down).attr("stroke-width", 2);
  candle.append("path").attr("d", "M7,6V-6H23Z").attr("fill", "rgba(255,0,0,.5)").attr("stroke", colors.up).attr("stroke-width", 2);
  candle.append("path").attr("d", "M7,6H23V-6Z").attr("fill", "rgba(0,0,255,.5)").attr("stroke", colors.down).attr("stroke-width", 2);
}

function modebar(svg) {
  // little plotly toolbar, plain shapes
  let g = svg.append("g").attr("fill", "#c9c9c9").attr("stroke", "none");
  let at = (x) => g.append("g").attr("transform", `translate(${x}, 113)`);

  let cam = at(1518);
  cam.append("rect").attr("x", -8).attr("y", -5).attr("width", 16).attr("height", 11).attr("rx", 1.5);
  cam.append("rect").attr("x", -4).attr("y", -7).attr("width", 8).attr("height", 3);
  cam.append("circle").attr("r", 3).attr("fill", "#fff");

  let zoom = at(1550);
  zoom.append("circle").attr("cx", -1).attr("cy", -1).attr("r", 5).attr("fill", "none").attr("stroke", "#c9c9c9").attr("stroke-width", 2.5);
  zoom.append("line").attr("x1", 3).attr("y1", 3).attr("x2", 8).attr("y2", 8).attr("stroke", "#c9c9c9").attr("stroke-width", 3);

  let pan = at(1574);
  pan.append("path").attr("d", "M0,-8L3,-4H1V-1H4V-3L8,0L4,3V1H1V4H3L0,8L-3,4H-1V1H-4V3L-8,0L-4,-3V-1H-1V-4H-3Z").attr("fill", "#9a9a9a");

  at(1597).append("rect").attr("x", -7).attr("y", -7).attr("width", 14).attr("height", 14)
    .attr("fill", "none").attr("stroke", "#c9c9c9").attr("stroke-width", 1.5).attr("stroke-dasharray", "2 2");

  at(1622).append("path").attr("d", "M-6,-2C-6,-9 7,-9 7,-2C7,4 -2,4 -3,2M-3,2C-5,5 -4,7 -3,8")
    .attr("fill", "none").attr("stroke", "#c9c9c9").attr("stroke-width", 1.5);

  at(1654).append("path").attr("d", "M-7,-7H7V7H-7ZM-1,-4V-1H-4V1H-1V4H1V1H4V-1H1V-4Z").attr("fill-rule", "evenodd");
  at(1678).append("path").attr("d", "M-7,-7H7V7H-7ZM-4,-1V1H4V-1Z").attr("fill-rule", "evenodd");

  at(1702).append("path").attr("d", "M-7,-3V-7H-3M3,-7H7V-3M7,3V7H3M-3,7H-7V3M-3,-3L3,3M3,-3L-3,3")
    .attr("fill", "none").attr("stroke", "#c9c9c9").attr("stroke-width", 1.4);

  at(1726).append("path").attr("d", "M0,-8L8,0H5V7H2V2H-2V7H-5V0H-8Z");

  let spike = at(1759);
  spike.append("rect").attr("x", -1).attr("y", -2).attr("width", 2).attr("height", 9).attr("fill", "#9a9a9a");
  spike.append("rect").attr("x", -7).attr("y", -6).attr("width", 9).attr("height", 3).attr("fill", "#9a9a9a");

  at(1783).append("path").attr("d", "M-8,0L-3,-5H8V5H-3Z").attr("fill", "#8a8a8a");

  let compare = at(1806);
  compare.append("path").attr("d", "M-8,-2L-5,-6H8V-2Z");
  compare.append("path").attr("d", "M-8,2H5L8,6H-8Z");

  let logo = at(1837);
  logo.append("rect").attr("x", -7).attr("y", -8).attr("width", 15).attr("height", 16).attr("fill", "#3f4f75");
  logo.selectAll("line").data([-4, -1, 2, 5]).enter().append("line")
    .attr("x1", d => d).attr("x2", d => d).attr("y1", -3).attr("y2", 6)
    .attr("stroke", "#fff").attr("stroke-width", 1).attr("stroke-dasharray", "1 1");
}

function annotations(svg) {
  svg.append("text").text("000440 - 중앙에너비스")
    .attr("x", 1236).attr("y", 115)
    .attr("text-anchor", "middle")
    .attr("dominant-baseline", "middle")
    .style("font-size", "18px");

  svg.append("text").text("인천고래 https://i-whale.com")
    .attr("x", 1049).attr("y", 191)
    .attr("dominant-baseline", "middle")
    .style("font-family", "'Liberation Sans', 'Noto Sans CJK KR', sans-serif")
    .style("font-size", "20.5px")
    .style("fill", "rgba(0,0,0,0.25)");
}

function visualize() {
  side_lists();
  toolbar();

  let svg = d3.select("#chart"),
    scales = make_scales();

  d3.select("#chart").append("defs").append("clipPath").attr("id", "plot_clip")
    .append("rect").attr("x", plot.left).attr("y", price_panel.top)
    .attr("width", plot.right - plot.left).attr("height", volume_panel.bottom - price_panel.top + 2);

  axes(svg, scales);
  spans(svg, scales);
  let marks = svg.append("g").attr("clip-path", "url(#plot_clip)");
  price_marks(marks, scales);
  volume_marks(marks, scales);
  legend(svg);
  modebar(svg);
  annotations(svg);
}

visualize();
</script>
</body>
</html>
